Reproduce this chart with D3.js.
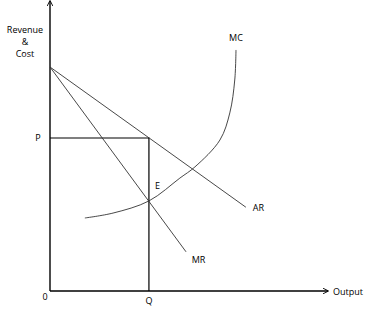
<!DOCTYPE html>
<html>
<head>
<meta charset="utf-8">
<script src="https://cdn.jsdelivr.net/npm/d3@7"></script>
<style>
  body { margin: 0; background: #fff; }
  text { font-family: "Open Sans", sans-serif; font-size: 9px; fill: #000; }
</style>
</head>
<body>
<div id="chart"></div>
<script>
// curve data (output, price units)
let arLine = [{ q: 0, p: 10 }, { q: 7.92, p: 3.74 }]
let mrLine = [{ q: 0, p: 10 }, { q: 5.5, p: 1.75 }]
let mcCurve = [
    { q: 1.41, p: 3.26 }, { q: 2.55, p: 3.48 }, { q: 4.0, p: 4.02 },
    { q: 5.25, p: 5.04 }, { q: 5.86, p: 5.54 }, { q: 6.87, p: 6.74 },
    { q: 7.27, p: 7.95 }, { q: 7.47, p: 9.42 }, { q: 7.52, p: 10.76 }
]
let eqQ = 4.0
let eqP = 6.83
let curveLabels = [
    { name: "MC", q: 7.52, p: 11.3 },
    { name: "AR", q: 8.2, p: 3.7 },
    { name: "MR", q: 5.73, p: 1.4 },
    { name: "E", q: 4.25, p: 4.7 }
]

drawChart()

function drawChart() {
    var width = 367, height = 311

    var svg = d3.select("#chart")
        .append("svg")
        .attr("width", width)
        .attr("height", height)

    var x = d3.scaleLinear().domain([0, 11.2]).range([50, 327])
    var y = d3.scaleLinear().domain([0, 10]).range([291, 67])

    // arrow markers
    var defs = svg.append("defs")
    defs.append("marker")
        .attr("id", "arr")
        .attr("viewBox", "0 0 10 10")
        .attr("refX", 9).attr("refY", 5)
        .attr("markerWidth", 6).attr("markerHeight", 6)
        .attr("markerUnits", "userSpaceOnUse")
        .attr("orient", "auto")
        .append("path")
        .attr("d", "M0,0 L10,5 L0,10")
        .attr("fill", "none")
        .attr("stroke", "#000")
        .attr("stroke-width", 1.5)

    // axes
    svg.append("line")
        .attr("x1", x(0)).attr("y1", y(0))
        .attr("x2", x(0)).attr("y2", 1)
        .attr("stroke", "#000").attr("stroke-width", 1.4)
        .attr("marker-end", "url(#arr)")
    svg.append("line")
        .attr("x1", x(0)).attr("y1", y(0))
        .attr("x2", 328).attr("y2", y(0))
        .attr("stroke", "#000").attr("stroke-width", 1.4)
        .attr("marker-end", "url(#arr)")

    // P and Q lines
    svg.append("path")
        .attr("d", "M" + x(0) + "," + y(eqP) + "H" + x(eqQ) + "V" + y(0))
        .attr("fill", "none")
        .attr("stroke", "#000").attr("stroke-width", 1.2)

    var line = d3.line()
        .x(function (d) { return x(d.q) })
        .y(function (d) { return y(d.p) })

    svg.append("path").datum(arLine).attr("d", line)
        .attr("fill", "none").attr("stroke", "#333").attr("stroke-width", 0.9)
    svg.append("path").datum(mrLine).attr("d", line)
        .attr("fill", "none").attr("stroke", "#333").attr("stroke-width", 0.9)
    svg.append("path").datum(mcCurve).attr("d", line.curve(d3.curveCatmullRom))
        .attr("fill", "none").attr("stroke", "#333").attr("stroke-width", 0.9)

    // labels
    svg.selectAll("text.curve")
        .data(curveLabels)
        .enter()
        .append("text")
        .attr("class", "curve")
        .attr("x", function (d) { return x(d.q) })
        .attr("y", function (d) { return y(d.p) })
        .attr("text-anchor", function (d) { return d.name == "MC" ? "middle" : "start" })
        .attr("dy", "0.35em")
        .text(function (d) { return d.name })

    var ylab = ["Revenue", "&", "Cost"]
    svg.selectAll("text.ylab")
        .data(ylab)
        .enter()
        .append("text")
        .attr("x", 25)
        .attr("y", function (d, i) { return 30 + i * 12 })
        .attr("dy", "0.35em")
        .attr("text-anchor", "middle")
        .text(function (d) { return d })

    svg.append("text").attr("x", 38).attr("y", y(eqP)).attr("dy", "0.35em")
        .attr("text-anchor", "middle").text("P")
    svg.append("text").attr("x", x(eqQ)).attr("y", 301).attr("dy", "0.35em")
        .attr("text-anchor", "middle").text("Q")
    svg.append("text").attr("x", 45).attr("y", 297).attr("dy", "0.35em")
        .attr("text-anchor", "middle").text("0")
    svg.append("text").attr("x", 333).attr("y", y(0) + 1).attr("dy", "0.35em")
        .text("Output")
}
</script>
</body>
</html>
